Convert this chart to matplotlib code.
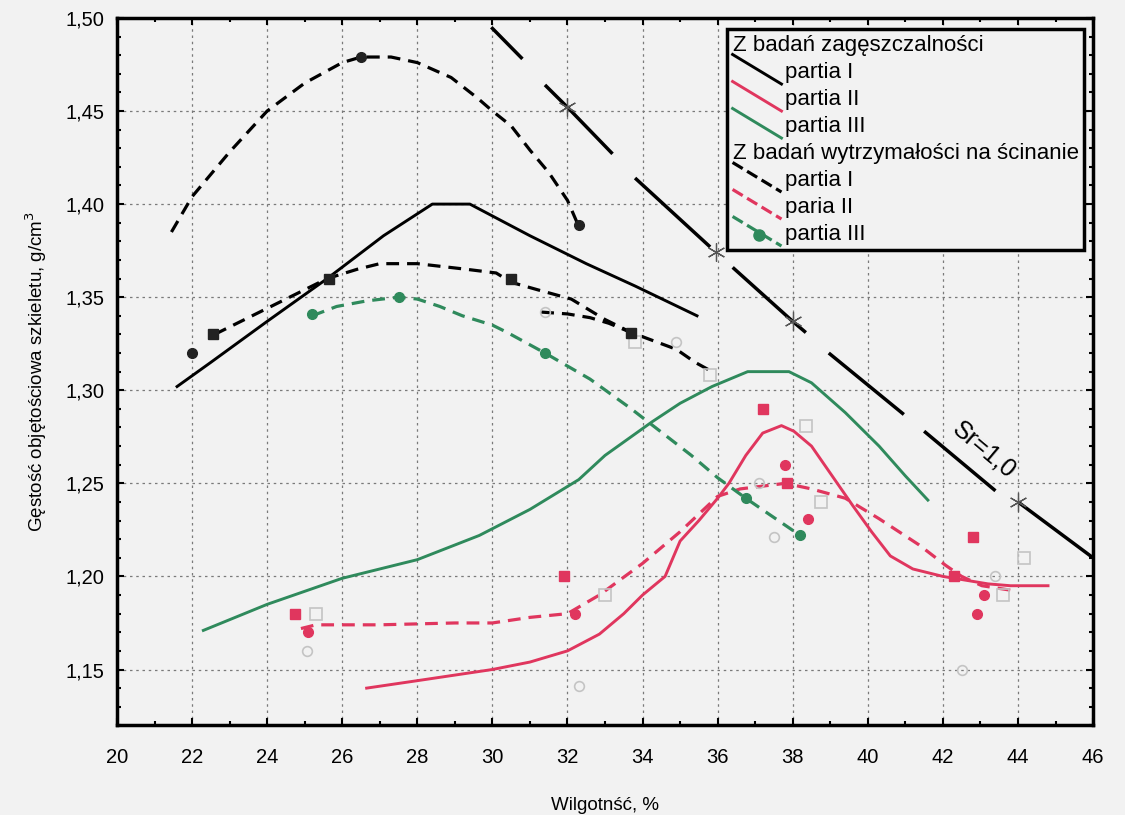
import matplotlib
matplotlib.use("Agg")
import matplotlib.pyplot as plt
from matplotlib.lines import Line2D
from matplotlib.legend_handler import HandlerBase
from matplotlib.ticker import MultipleLocator, FuncFormatter

plt.rcParams['font.family'] = ['Liberation Sans', 'DejaVu Sans']

# --- Z badań zagęszczalności (solid lines)
comp_I_x = [21.6, 22.5, 24, 25.6, 27.1, 28.4, 29.4, 31, 32.5, 33.8, 35.45]
comp_I_y = [1.302, 1.315, 1.337, 1.36, 1.383, 1.40, 1.40, 1.383, 1.368, 1.356, 1.34]

comp_II_x = [26.65, 28, 30, 31, 32, 32.85, 33.5, 34, 34.6, 35, 35.5, 36, 36.3, 36.75, 37.2, 37.7,
             38.03, 38.5, 39.05, 39.6, 40.1, 40.6, 41.2, 42, 42.6, 43.2, 43.8, 44.8]
comp_II_y = [1.14, 1.144, 1.15, 1.154, 1.16, 1.169, 1.18, 1.19, 1.20, 1.219, 1.23, 1.242, 1.25, 1.265,
             1.277, 1.281, 1.278, 1.27, 1.254, 1.238, 1.224, 1.211, 1.204, 1.20, 1.198, 1.196, 1.195, 1.195]

comp_III_x = [22.3, 24, 26, 28, 29.65, 31, 32.3, 33, 34.25, 35, 35.85, 36.8, 37.9, 38.5, 39.4, 40.3, 41, 41.6]
comp_III_y = [1.171, 1.185, 1.199, 1.209, 1.222, 1.236, 1.252, 1.265, 1.283, 1.293, 1.302, 1.31, 1.31,
              1.304, 1.288, 1.27, 1.254, 1.241]

# --- Z badań wytrzymałości na ścinanie (dashed lines)
shear_I_x = [21.45, 22, 23, 24, 25, 26, 26.5, 27.3, 28, 28.9, 29.6, 30, 30.5, 31, 31.5, 32, 32.3]
shear_I_y = [1.385, 1.404, 1.428, 1.45, 1.465, 1.476, 1.479, 1.479, 1.476, 1.468, 1.457, 1.45, 1.442,
             1.429, 1.417, 1.402, 1.388]

shear_Ib_x = [22.6, 23.5, 24.5, 25.6, 26.4, 27, 28, 29.3, 30.1, 30.5, 31.2, 32.1, 33, 33.7, 34.5, 34.9, 35.4, 35.85]
shear_Ib_y = [1.33, 1.339, 1.349, 1.36, 1.365, 1.368, 1.368, 1.365, 1.363, 1.358, 1.354, 1.349, 1.338,
              1.331, 1.325, 1.322, 1.315, 1.31]

shear_Ic_x = [31.3, 32, 32.6, 33.1, 33.7]
shear_Ic_y = [1.342, 1.341, 1.339, 1.336, 1.331]

shear_II_x = [24.9, 25.3, 27, 29, 30, 31, 32, 32.85, 34, 35, 36, 36.6, 37.8, 38.5, 39.4, 40.3, 41.36,
              42.07, 42.5, 43.04, 44]
shear_II_y = [1.172, 1.174, 1.174, 1.175, 1.175, 1.178, 1.18, 1.19, 1.207, 1.224, 1.243, 1.247, 1.25,
              1.247, 1.242, 1.231, 1.217, 1.206, 1.20, 1.195, 1.192]

shear_III_x = [25.2, 25.85, 26.65, 27.5, 28, 28.6, 29.2, 30, 30.4, 31.4, 32.6, 33.7, 35.3, 36, 36.75, 37.4, 38.2]
shear_III_y = [1.34, 1.345, 1.348, 1.35, 1.349, 1.345, 1.34, 1.335, 1.331, 1.32, 1.306, 1.29, 1.265,
               1.253, 1.242, 1.233, 1.222]

# --- measured points
black_sq_x = [22.55, 25.65, 30.5, 33.7]
black_sq_y = [1.33, 1.36, 1.36, 1.331]
black_ci_x = [22.0, 26.5, 32.3]
black_ci_y = [1.32, 1.479, 1.389]
red_sq_x = [24.75, 31.9, 37.2, 37.85, 42.3, 42.8]
red_sq_y = [1.18, 1.20, 1.29, 1.25, 1.20, 1.221]
red_ci_x = [25.1, 32.2, 37.8, 38.4, 42.9, 43.1]
red_ci_y = [1.17, 1.18, 1.26, 1.231, 1.18, 1.19]
green_ci_x = [25.2, 27.5, 31.4, 36.75, 38.2]
green_ci_y = [1.341, 1.35, 1.32, 1.242, 1.222]
open_sq_x = [25.3, 33.0, 33.8, 35.8, 38.35, 38.75, 43.6, 44.15]
open_sq_y = [1.18, 1.19, 1.326, 1.308, 1.281, 1.24, 1.19, 1.21]
open_ci_x = [25.05, 32.3, 31.4, 34.9, 37.1, 37.5, 42.5, 43.4]
open_ci_y = [1.16, 1.141, 1.342, 1.326, 1.25, 1.221, 1.15, 1.20]

# --- saturation line Sr=1,0 (broken into pieces)
sr_segments = [
    ([29.97, 30.8], [1.495, 1.478]),
    ([31.4, 32.0, 33.2], [1.464, 1.452, 1.427]),
    ([33.8, 35.8], [1.414, 1.377]),
    ([36.4, 38.0, 38.35], [1.366, 1.337, 1.331]),
    ([38.96, 40.96], [1.320, 1.287]),
    ([41.5, 43.4], [1.278, 1.246]),
    ([44.0, 46.0], [1.24, 1.21]),
]
sr_star_x = [32.0, 35.95, 38.0, 44.0]
sr_star_y = [1.452, 1.374, 1.337, 1.24]

RED = '#e0365e'
GREEN = '#2f8a5c'
BG = '#f2f2f2'


class DiagHandler(HandlerBase):
    def create_artists(self, legend, orig, xd, yd, w, h, fontsize, trans):
        l = Line2D([xd, xd + w], [yd + h * 1.5, yd - h * 0.4],
                   color=orig.get_color(), lw=orig.get_linewidth(),
                   linestyle=orig.get_linestyle(), transform=trans)
        l.set_visible(orig.get_visible())
        arts = [l]
        if orig.get_marker() not in (None, 'None', ''):
            m = Line2D([xd + w * 0.55], [yd + h * 0.3], marker=orig.get_marker(), ls='none',
                       color=orig.get_color(), ms=orig.get_markersize(), transform=trans)
            arts.append(m)
        return arts


fig = plt.figure(figsize=(11.25, 8.15), dpi=100, facecolor=BG)
ax = fig.add_axes([0.104, 0.11, 0.8676, 0.868])
ax.set_facecolor(BG)

lw = 2.1
ax.plot(comp_I_x, comp_I_y, color='black', lw=lw)
ax.plot(comp_II_x, comp_II_y, color=RED, lw=lw)
ax.plot(comp_III_x, comp_III_y, color=GREEN, lw=lw)

dash = (4, 2.5)
ax.plot(shear_I_x, shear_I_y, color='black', lw=2.3, dashes=dash)
ax.plot(shear_Ib_x, shear_Ib_y, color='black', lw=2.3, dashes=dash)
ax.plot(shear_Ic_x, shear_Ic_y, color='black', lw=2.3, dashes=dash)
ax.plot(shear_II_x, shear_II_y, color=RED, lw=2.3, dashes=dash)
ax.plot(shear_III_x, shear_III_y, color=GREEN, lw=2.3, dashes=dash)

for sx, sy in sr_segments:
    ax.plot(sx, sy, color='black', lw=2.5, solid_capstyle='butt')
ax.plot(sr_star_x, sr_star_y, ls='none', marker=(6, 2, 0), ms=13, color='#555555', mew=0.9)
ax.text(43.1, 1.268, 'Sr=1,0', rotation=-40, fontsize=18, ha='center', va='center')

ax.plot(open_sq_x, open_sq_y, ls='none', marker='s', ms=8, mfc='none', mec='#c4c4c4', mew=1.2)
ax.plot(open_ci_x, open_ci_y, ls='none', marker='o', ms=7, mfc='none', mec='#c4c4c4', mew=1.2)
ax.plot(black_sq_x, black_sq_y, ls='none', marker='s', ms=7, color='#222222')
ax.plot(black_ci_x, black_ci_y, ls='none', marker='o', ms=7, color='#222222')
ax.plot(red_sq_x, red_sq_y, ls='none', marker='s', ms=7, color=RED)
ax.plot(red_ci_x, red_ci_y, ls='none', marker='o', ms=7, color=RED)
ax.plot(green_ci_x, green_ci_y, ls='none', marker='o', ms=7, color=GREEN)

ax.set_xlim(20, 46)
ax.set_ylim(1.12, 1.50)
ax.xaxis.set_major_locator(MultipleLocator(2))
ax.xaxis.set_minor_locator(MultipleLocator(1))
ax.yaxis.set_major_locator(MultipleLocator(0.05))
ax.yaxis.set_minor_locator(MultipleLocator(0.01))
ax.yaxis.set_major_formatter(FuncFormatter(lambda v, p: f"{v:.2f}".replace('.', ',')))
ax.tick_params(which='both', direction='in', top=True, right=True, labelsize=14.5, width=1.5)
ax.tick_params(which='major', length=5)
ax.tick_params(axis='x', which='major', pad=16)
ax.tick_params(axis='y', which='major', pad=9)
ax.tick_params(which='minor', length=3)
for s in ax.spines.values():
    s.set_linewidth(2.5)
ax.grid(True, which='major', color='#7a7a7a', lw=0.9, linestyle=(0, (2, 3)))

ax.set_xlabel('Wilgotnść, %', fontsize=13.5, labelpad=22)
ax.set_ylabel('Gęstość objętościowa szkieletu, g/cm$^3$', fontsize=13.5, labelpad=12)

handles = [
    Line2D([], [], visible=False),
    Line2D([], [], color='black', lw=lw),
    Line2D([], [], color=RED, lw=lw),
    Line2D([], [], color=GREEN, lw=lw),
    Line2D([], [], visible=False),
    Line2D([], [], color='black', lw=2.3, linestyle=(0, (4, 2.5))),
    Line2D([], [], color=RED, lw=2.3, linestyle=(0, (4, 2.5))),
    Line2D([], [], color=GREEN, lw=2.3, linestyle=(0, (4, 2.5)), marker='o', ms=8),
]
labels = ['Z badań zagęszczalności', 'partia I', 'partia II', 'partia III',
          'Z badań wytrzymałości na ścinanie', 'partia I', 'paria II', 'partia III']
leg = ax.legend(handles, labels, loc='upper left', bbox_to_anchor=(0.625, 0.984),
                handler_map={Line2D: DiagHandler()}, fontsize=16, handlelength=2.2,
                handletextpad=0.15, labelspacing=0.27, borderpad=0.25, borderaxespad=0,
                frameon=True, fancybox=False, facecolor=BG, framealpha=1, edgecolor='black')
leg.get_frame().set_linewidth(2.5)
# headers without handle space
for vpack in leg._legend_handle_box.get_children():
    for i, hpack in enumerate(vpack.get_children()):
        if i in (0, 4):
            hpack.get_children()[0].set_width(0)
            hpack.sep = 0

fig.savefig('out.png', dpi=100, facecolor=BG)
